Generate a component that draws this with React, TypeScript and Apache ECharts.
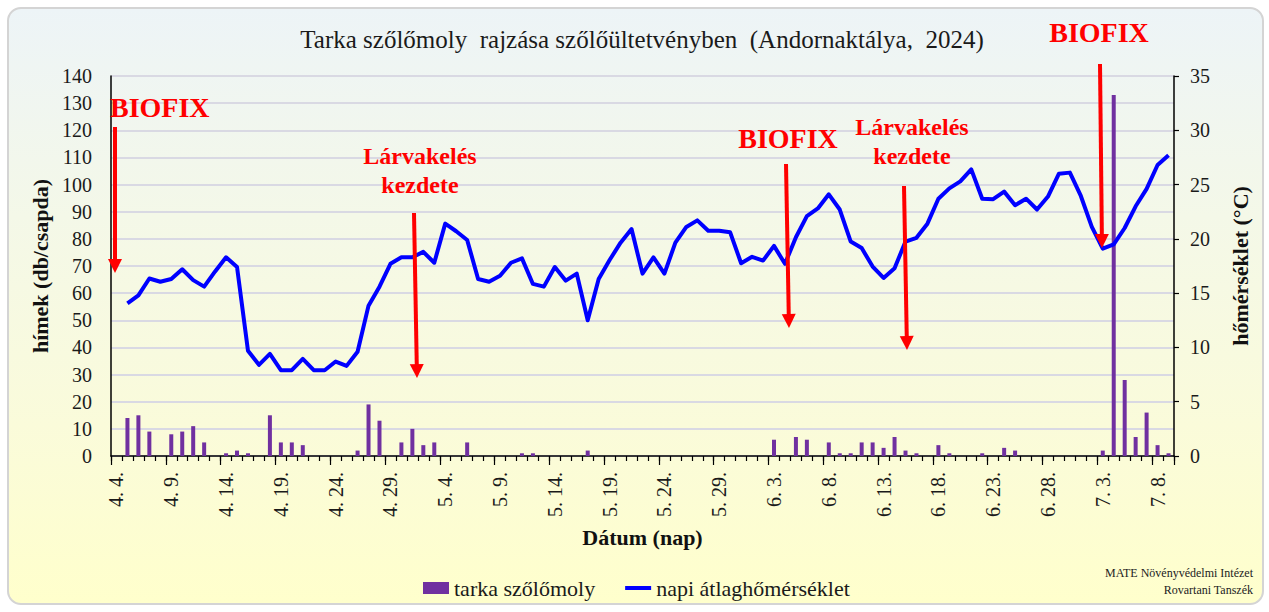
import React, { useEffect, useRef } from "react";
import * as echarts from "echarts";

const categories: string[] = [
  "4. 4.", "4. 5.", "4. 6.", "4. 7.", "4. 8.", "4. 9.", "4. 10.", "4. 11.", "4. 12.", "4. 13.",
  "4. 14.", "4. 15.", "4. 16.", "4. 17.", "4. 18.", "4. 19.", "4. 20.", "4. 21.", "4. 22.", "4. 23.",
  "4. 24.", "4. 25.", "4. 26.", "4. 27.", "4. 28.", "4. 29.", "4. 30.", "5. 1.", "5. 2.", "5. 3.",
  "5. 4.", "5. 5.", "5. 6.", "5. 7.", "5. 8.", "5. 9.", "5. 10.", "5. 11.", "5. 12.", "5. 13.",
  "5. 14.", "5. 15.", "5. 16.", "5. 17.", "5. 18.", "5. 19.", "5. 20.", "5. 21.", "5. 22.", "5. 23.",
  "5. 24.", "5. 25.", "5. 26.", "5. 27.", "5. 28.", "5. 29.", "5. 30.", "5. 31.", "6. 1.", "6. 2.",
  "6. 3.", "6. 4.", "6. 5.", "6. 6.", "6. 7.", "6. 8.", "6. 9.", "6. 10.", "6. 11.", "6. 12.",
  "6. 13.", "6. 14.", "6. 15.", "6. 16.", "6. 17.", "6. 18.", "6. 19.", "6. 20.", "6. 21.", "6. 22.",
  "6. 23.", "6. 24.", "6. 25.", "6. 26.", "6. 27.", "6. 28.", "6. 29.", "6. 30.", "7. 1.", "7. 2.",
  "7. 3.", "7. 4.", "7. 5.", "7. 6.", "7. 7.", "7. 8.", "7. 9."
];

// tarka szőlőmoly (hímek, db/csapda)
const moths: number[] = [
  0, 14, 15, 9, 0, 8, 9, 11, 5, 0,
  1, 2, 1, 0, 15, 5, 5, 4, 0, 0,
  0, 0, 2, 19, 13, 0, 5, 10, 4, 5,
  0, 0, 5, 0, 0, 0, 0, 1, 1, 0,
  0, 0, 0, 2, 0, 0, 0, 0, 0, 0,
  0, 0, 0, 0, 0, 0, 0, 0, 0, 0,
  6, 0, 7, 6, 0, 5, 1, 1, 5, 5,
  3, 7, 2, 1, 0, 4, 1, 0, 0, 1,
  0, 3, 2, 0, 0, 0, 0, 0, 0, 0,
  2, 133, 28, 7, 16, 4, 1
];

// napi átlaghőmérséklet (°C)
const temps: (number | null)[] = [
  null, 14.05, 14.8, 16.35, 16.05, 16.3, 17.2, 16.2, 15.6, 17.0,
  18.3, 17.4, 9.7, 8.4, 9.4, 7.9, 7.9, 8.95, 7.9, 7.9,
  8.7, 8.3, 9.6, 13.85, 15.6, 17.7, 18.3, 18.3, 18.8, 17.8,
  21.4, 20.7, 19.9, 16.3, 16.05, 16.6, 17.8, 18.2, 15.85, 15.6,
  17.4, 16.15, 16.8, 12.5, 16.3, 18.05, 19.65, 20.9, 16.8, 18.3,
  16.8, 19.65, 21.1, 21.7, 20.75, 20.75, 20.6, 17.75, 18.35, 18.0,
  19.35, 17.7, 20.15, 22.1, 22.8, 24.1, 22.7, 19.75, 19.15, 17.45,
  16.4, 17.3, 19.75, 20.1, 21.4, 23.7, 24.65, 25.3, 26.4, 23.7,
  23.65, 24.35, 23.1, 23.7, 22.7, 23.9, 26.0, 26.1, 23.95, 21.1,
  19.1, 19.5, 21.0, 23.0, 24.6, 26.8, 27.7
];

const leftTicks = { min: 0, max: 140, interval: 10 };
const rightTicks = { min: 0, max: 35, interval: 5 };

const SERIF = "Liberation Serif";
const RED = "#FF0000";

type Arrow = { x1: number; y1: number; x2: number; y2: number };
const arrows: Arrow[] = [
  { x1: 115, y1: 127, x2: 115, y2: 273 },
  { x1: 414, y1: 213, x2: 417, y2: 378 },
  { x1: 786, y1: 164, x2: 789, y2: 328 },
  { x1: 904, y1: 186, x2: 907, y2: 350 },
  { x1: 1100, y1: 64, x2: 1102, y2: 248 },
];

function arrowGraphics(a: Arrow): any[] {
  const dx = a.x2 - a.x1;
  const dy = a.y2 - a.y1;
  const len = Math.sqrt(dx * dx + dy * dy);
  const ux = dx / len;
  const uy = dy / len;
  const px = -uy;
  const py = ux;
  const headLen = 14;
  const headHalf = 7;
  const bx = a.x2 - ux * headLen;
  const by = a.y2 - uy * headLen;
  return [
    {
      type: "line",
      shape: { x1: a.x1, y1: a.y1, x2: bx + ux * 1, y2: by + uy * 1 },
      style: { stroke: RED, lineWidth: 4 },
      z: 100,
    },
    {
      type: "polygon",
      shape: {
        points: [
          [a.x2, a.y2],
          [bx + px * headHalf, by + py * headHalf],
          [bx - px * headHalf, by - py * headHalf],
        ],
      },
      style: { fill: RED },
      z: 100,
    },
  ];
}

function redText(text: string, x: number, y: number, size: number, align: string) {
  return {
    type: "text",
    x,
    y,
    z: 100,
    style: {
      text,
      fill: RED,
      fontSize: size,
      fontWeight: "bold",
      fontStyle: "normal",
      fontFamily: SERIF,
      align,
      verticalAlign: "middle",
      lineHeight: 29,
    },
  };
}

export default function App() {
  const ref = useRef<HTMLDivElement>(null);

  useEffect(() => {
    if (!ref.current) return;
    const chart = echarts.init(ref.current, undefined, { renderer: "svg" });

    const graphics: any[] = [];
    arrows.forEach((a) => graphics.push(...arrowGraphics(a)));
    graphics.push(redText("BIOFIX", 110, 107, 28, "left"));
    graphics.push(redText("Lárvakelés\nkezdete", 420, 170, 24, "center"));
    graphics.push(redText("BIOFIX", 788, 138, 28, "center"));
    graphics.push(redText("Lárvakelés\nkezdete", 912, 141, 24, "center"));
    graphics.push(redText("BIOFIX", 1099, 32, 28, "center"));
    graphics.push({
      type: "text",
      x: 1253,
      y: 581,
      style: {
        text: "MATE Növényvédelmi Intézet\nRovartani Tanszék",
        fill: "#222",
        fontSize: 12,
        fontWeight: "normal",
        fontStyle: "normal",
        fontFamily: SERIF,
        align: "right",
        verticalAlign: "middle",
        lineHeight: 17,
      },
    });

    const axisLabelStyle = {
      color: "#1a1a1a",
      fontSize: 20,
      fontWeight: "normal",
      fontStyle: "normal",
      fontFamily: SERIF,
    };
    const axisNameStyle = { color: "#111", fontSize: 22, fontWeight: "bold", fontStyle: "normal", fontFamily: SERIF };

    chart.setOption({
      animation: false,
      textStyle: { fontFamily: SERIF, fontWeight: "normal", fontStyle: "normal" },
      title: {
        text: "Tarka szőlőmoly  rajzása szőlőültetvényben  (Andornaktálya,  2024)",
        left: 637,
        top: 22,
        textAlign: "center",
        textStyle: { color: "#1a1a1a", fontSize: 25, fontWeight: "normal", fontStyle: "normal", fontFamily: SERIF },
      },
      grid: { left: 111, right: 95, top: 76, bottom: 156, containLabel: false },
      legend: {
        left: 418,
        top: 572,
        itemWidth: 26,
        itemHeight: 12,
        itemGap: 30,
        textStyle: { color: "#1a1a1a", fontSize: 22, fontWeight: "normal", fontStyle: "normal", fontFamily: SERIF },
        data: [
          { name: "tarka szőlőmoly", icon: "rect" },
          { name: "napi átlaghőmérséklet", icon: "path://M0,0 L26,0 L26,4 L0,4 Z" },
        ],
      },
      xAxis: [
        {
          type: "category",
          data: categories,
          position: "bottom",
          boundaryGap: true,
          name: "Dátum (nap)",
          nameLocation: "middle",
          nameGap: 70,
          nameTextStyle: axisNameStyle,
          axisLine: { show: true, lineStyle: { color: "#000", width: 1.5 } },
          axisTick: { show: true, interval: 0, length: 5, lineStyle: { color: "#000", width: 1.2 } },
          axisLabel: { ...axisLabelStyle, interval: 4, rotate: 90, margin: 16 },
          splitLine: { show: false },
        },
        {
          type: "category",
          data: categories,
          position: "bottom",
          offset: 0,
          boundaryGap: true,
          axisLine: { show: false },
          axisTick: {
            show: true,
            interval: (i: number) => i % 5 === 0,
            length: 9,
            lineStyle: { color: "#000", width: 1.2 },
          },
          axisLabel: { show: false },
          splitLine: { show: false },
        },
      ],
      yAxis: [
        {
          type: "value",
          ...leftTicks,
          position: "left",
          name: "hímek (db/csapda)",
          nameLocation: "middle",
          nameGap: 58,
          nameRotate: 90,
          nameTextStyle: axisNameStyle,
          axisLine: { show: true, lineStyle: { color: "#000", width: 1.5 } },
          axisTick: { show: false },
          axisLabel: { ...axisLabelStyle, margin: 19 },
          splitLine: { show: true, lineStyle: { color: "#D9D9E3", width: 2 } },
        },
        {
          type: "value",
          ...rightTicks,
          position: "right",
          name: "hőmérséklet (°C)",
          nameLocation: "middle",
          nameGap: 55,
          nameRotate: 90,
          nameTextStyle: axisNameStyle,
          axisLine: { show: true, lineStyle: { color: "#000", width: 1.5 } },
          axisTick: { show: true, length: 5, lineStyle: { color: "#000", width: 1.2 } },
          axisLabel: { ...axisLabelStyle, margin: 16 },
          splitLine: { show: false },
        },
      ],
      series: [
        {
          name: "tarka szőlőmoly",
          type: "bar",
          xAxisIndex: 0,
          yAxisIndex: 0,
          data: moths,
          barWidth: 4,
          itemStyle: { color: "#7030A0" },
          z: 3,
        },
        {
          name: "napi átlaghőmérséklet",
          type: "line",
          xAxisIndex: 0,
          yAxisIndex: 1,
          data: temps,
          symbol: "none",
          connectNulls: false,
          lineStyle: { color: "#0000FF", width: 4, join: "round" },
          itemStyle: { color: "#0000FF" },
          z: 4,
        },
      ],
      graphic: graphics,
    });

    return () => chart.dispose();
  }, []);

  return (
    <div style={{ position: "fixed", left: 0, top: 0, width: 1269, height: 612, background: "#ffffff" }}>
      <div
        style={{
          position: "absolute",
          left: 7,
          top: 7,
          width: 1257,
          height: 598,
          boxSizing: "border-box",
          border: "2px solid #D4D4D4",
          borderRadius: 14,
          background: "linear-gradient(180deg, #EDF4F7 0%, #F4F8E8 35%, #FAFBDA 70%, #FFFFCC 100%)",
        }}
      />
      <div ref={ref} style={{ position: "absolute", left: 0, top: 0, width: 1269, height: 612 }} />
    </div>
  );
}
